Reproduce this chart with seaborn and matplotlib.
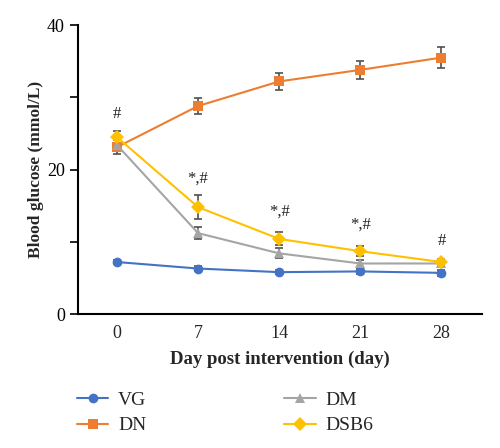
import matplotlib
matplotlib.use('Agg')
import matplotlib.pyplot as plt
import seaborn as sns
import pandas as pd
import numpy as np
from matplotlib.ticker import MultipleLocator

# 数据
days = ['0', '7', '14', '21', '28']
groups = ['VG', 'DN', 'DM', 'DSB6']
vg = [7.2, 6.3, 5.8, 5.9, 5.7]
dn = [23.1, 28.8, 32.2, 33.8, 35.5]
dm = [23.4, 11.2, 8.4, 7.0, 7.0]
dsb6 = [24.5, 14.8, 10.4, 8.7, 7.2]
vg_err = [0.3, 0.3, 0.3, 0.3, 0.4]
dn_err = [1.0, 1.1, 1.15, 1.2, 1.4]
dm_err = [0.8, 0.8, 0.7, 0.5, 0.4]
dsb6_err = [0.9, 1.65, 0.9, 0.7, 0.4]
marks = ['#', '*,#', '*,#', '*,#', '#']
mark_y = [26.6, 17.6, 13.0, 11.2, 9.0]

colors = {'VG': '#4472C4', 'DN': '#ED7D31', 'DM': '#A5A5A5', 'DSB6': '#FFC000'}
markers = {'VG': 'o', 'DN': 's', 'DM': '^', 'DSB6': 'D'}

values = {'VG': vg, 'DN': dn, 'DM': dm, 'DSB6': dsb6}
errors = {'VG': vg_err, 'DN': dn_err, 'DM': dm_err, 'DSB6': dsb6_err}

rows = []
for g in groups:
    for i, d in enumerate(days):
        rows.append({'pos': i, 'day': d, 'group': g, 'value': values[g][i], 'err': errors[g][i]})
df = pd.DataFrame(rows)

sns.set_theme(style='white')
plt.rcParams['font.family'] = ['Liberation Serif', 'DejaVu Serif']

fig = plt.figure(figsize=(5, 4.48), dpi=100)
ax = fig.add_axes([0.156, 0.299, 0.808, 0.645])

for g in groups:
    sub = df[df['group'] == g]
    ax.errorbar(sub['pos'], sub['value'], yerr=sub['err'], fmt='none',
                ecolor='#505050', elinewidth=1.2, capsize=3, capthick=1.2, zorder=3)

sns.lineplot(data=df, x='pos', y='value', hue='group', style='group',
             hue_order=groups, style_order=groups, palette=colors,
             markers=markers, dashes=False, markersize=7, linewidth=1.5,
             markeredgewidth=0, ax=ax, zorder=4)

for i, t in enumerate(marks):
    ax.text(i, mark_y[i], t, ha='center', va='bottom', fontsize=12, color='#222222')

ax.set_xlim(-0.48, 4.5)
ax.set_ylim(0, 40)
ax.set_xticks(range(len(days)))
ax.set_xticklabels(days)
ax.yaxis.set_major_locator(MultipleLocator(20))
ax.yaxis.set_minor_locator(MultipleLocator(10))
ax.tick_params(axis='y', which='both', direction='out', length=6, width=1.2,
               left=True, labelsize=13, colors='black')
ax.tick_params(axis='x', length=0, labelsize=13, pad=8)
for s in ['top', 'right']:
    ax.spines[s].set_visible(False)
for s in ['left', 'bottom']:
    ax.spines[s].set_color('black')
    ax.spines[s].set_linewidth(1.5)

ax.set_xlabel('Day post intervention (day)', fontsize=13.5, fontweight='bold', labelpad=6)
ax.set_ylabel('Blood glucose (mmol/L)', fontsize=12.5, fontweight='bold', labelpad=2)

handles, labels = ax.get_legend_handles_labels()
order = [labels.index(g) for g in ['VG', 'DN', 'DM', 'DSB6']]
ax.legend([handles[i] for i in order], [labels[i] for i in order], ncol=2,
          loc='upper left', bbox_to_anchor=(-0.045, -0.207), frameon=False,
          fontsize=14, columnspacing=7.1, handlelength=1.6, handletextpad=0.5,
          labelspacing=0.4)

plt.savefig('out.png', dpi=100, facecolor='white')
plt.close(fig)
